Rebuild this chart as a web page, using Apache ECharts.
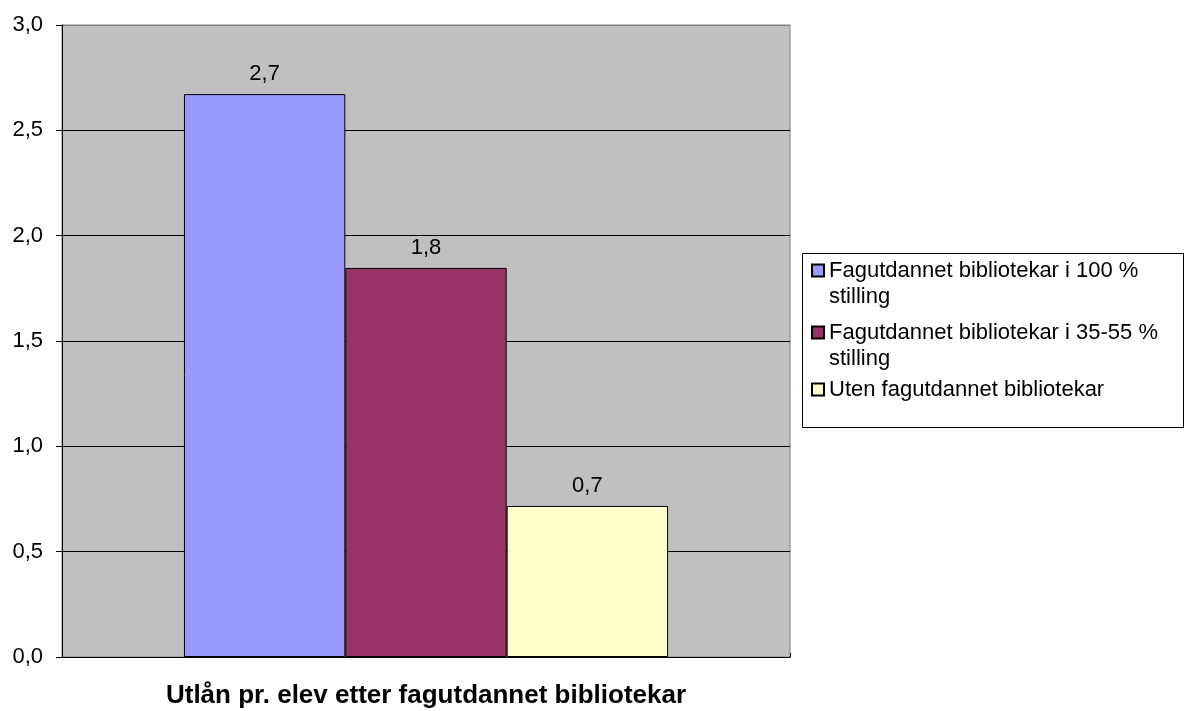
<!DOCTYPE html>
<html>
<head>
<meta charset="utf-8">
<script src="https://cdn.jsdelivr.net/npm/echarts@6/dist/echarts.min.js"></script>
<style>
html,body{margin:0;padding:0;background:#fff;}
#chart{width:1188px;height:711px;}
</style>
</head>
<body>
<div id="chart"></div>
<script>
var categories = ['Utlån pr. elev etter fagutdannet bibliotekar'];
var seriesNames = [
  'Fagutdannet bibliotekar i 100 %\nstilling',
  'Fagutdannet bibliotekar i 35-55 %\nstilling',
  'Uten fagutdannet bibliotekar'
];
var seriesValues = [2.672, 1.847, 0.717];
var seriesColors = ['#9999FF', '#993366', '#FFFFCC'];
var yTicks = [0, 0.5, 1.0, 1.5, 2.0, 2.5, 3.0];

var FONT = '"Liberation Sans", Arial, sans-serif';
function fmt(v) { return v.toFixed(1).replace('.', ','); }

var series = seriesNames.map(function (n, i) {
  return {
    name: n,
    type: 'bar',
    data: [seriesValues[i]],
    barGap: '0%',
    barCategoryGap: '33.5%',
    itemStyle: { color: seriesColors[i], borderColor: '#000', borderWidth: 1 },
    label: {
      show: true, position: 'top', distance: 9,
      formatter: function (p) { return fmt(p.value); },
      fontFamily: FONT, fontSize: 22, color: '#000'
    }
  };
});

var legendTops = [231.5, 293.5, 376.5];
var legends = seriesNames.map(function (n, i) {
  var twoLine = n.indexOf('\n') >= 0;
  return {
    show: true, orient: 'vertical', left: 811, top: legendTops[i], padding: 0,
    itemWidth: 12, itemHeight: 12, itemGap: 0, icon: 'rect', selectedMode: false,
    data: [n],
    formatter: function (name) { return twoLine ? '\n' + name : name; },
    textStyle: { fontFamily: FONT, fontSize: 22, lineHeight: 26, color: '#000' }
  };
});

var splitColors = yTicks.map(function (t, i) { return i === yTicks.length - 1 ? '#808080' : '#000'; });

var chart = echarts.init(document.getElementById('chart'), null, { renderer: 'canvas' });
chart.setOption({
  animation: false,
  backgroundColor: '#fff',
  title: {
    text: categories[0], left: 426, top: 683, textAlign: 'center', padding: 0,
    textStyle: { fontFamily: FONT, fontSize: 26, fontWeight: 'bold', color: '#000' }
  },
  grid: {
    left: 62, top: 25, width: 728, height: 632,
    show: true, backgroundColor: '#C0C0C0', borderColor: '#808080', borderWidth: 1
  },
  legend: legends,
  xAxis: {
    type: 'category', data: [''],
    axisLine: { show: true, lineStyle: { color: '#000', width: 1 } },
    axisTick: { show: true, inside: true, length: 4, lineStyle: { color: '#000' } },
    axisLabel: { show: false }
  },
  yAxis: {
    type: 'value', min: 0, max: 3, interval: 0.5,
    axisLine: { show: true, lineStyle: { color: '#000', width: 1 } },
    axisTick: { show: true, length: 6, lineStyle: { color: '#000' } },
    axisLabel: {
      margin: 19, fontFamily: FONT, fontSize: 22, color: '#000',
      formatter: function (v) { return fmt(v); }
    },
    splitLine: { show: true, lineStyle: { color: splitColors, width: 1 } }
  },
  graphic: [{
    type: 'rect', shape: { x: 802.5, y: 253.5, width: 381, height: 174 },
    style: { fill: 'none', stroke: '#000', lineWidth: 1 }, silent: true, z: -1
  }],
  series: series
});
</script>
</body>
</html>
